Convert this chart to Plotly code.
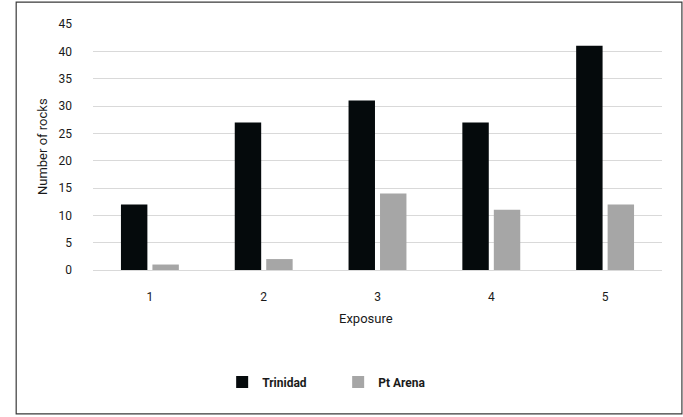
import plotly.graph_objects as go

categories = ["1", "2", "3", "4", "5"]
trinidad = [12, 27, 31, 27, 41]
pt_arena = [1, 2, 14, 11, 12]
y_ticks = [0, 5, 10, 15, 20, 25, 30, 35, 40, 45]

FONT = "Roboto, sans-serif"
TXT = "#1a1a1a"

fig = go.Figure()
fig.add_trace(go.Bar(x=categories, y=trinidad, name="Trinidad",
                     marker=dict(color="#050a0c", line=dict(width=0))))
fig.add_trace(go.Bar(x=categories, y=pt_arena, name="Pt Arena",
                     marker=dict(color="#a6a6a6", line=dict(width=0))))

fig.update_layout(
    width=683, height=417,
    margin=dict(l=93, r=21, t=24, b=147),
    paper_bgcolor="white", plot_bgcolor="white",
    font=dict(family=FONT, size=12, color=TXT),
    barmode="group", bargap=0.447, bargroupgap=0.16,
    showlegend=True,
    legend=dict(orientation="h", x=0.227, xanchor="left", y=-0.455, yanchor="middle",
                font=dict(family=FONT, size=12, color=TXT, weight="bold"),
                itemwidth=30, entrywidth=71),
    xaxis=dict(showgrid=False, showline=True, linecolor="#d9d9d9", linewidth=1,
               ticks="", tickfont=dict(size=12), ticklabelstandoff=16),
    yaxis=dict(range=[0, 45], tickvals=y_ticks, showgrid=True, gridcolor="#d9d9d9",
               gridwidth=1, zeroline=False, showline=False, ticks="",
               tickfont=dict(size=12), ticklabelstandoff=20),
    annotations=[
        dict(text="Exposure", xref="paper", yref="paper", x=0.479, y=-0.199,
             xanchor="center", yanchor="middle", showarrow=False,
             font=dict(family=FONT, size=13, color=TXT)),
        dict(text="Number of rocks", xref="paper", yref="paper", x=-0.0896, y=0.5,
             xanchor="center", yanchor="middle", showarrow=False, textangle=-90,
             font=dict(family=FONT, size=13, color=TXT)),
    ],
    shapes=[dict(type="rect", xref="paper", yref="paper",
                 x0=-0.135, x1=1.035, y0=-0.585, y1=1.089,
                 line=dict(color="#3a3a3a", width=1.2), fillcolor="rgba(0,0,0,0)",
                 layer="below")],
)

fig.write_html("out.html", config={"displayModeBar": False},
               post_script="document.body.style.margin='0';")
